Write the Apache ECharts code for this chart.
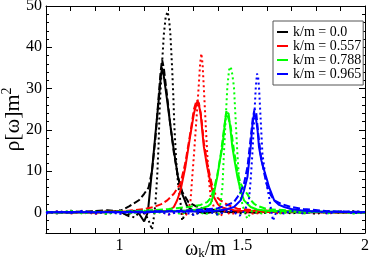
<!DOCTYPE html>
<html><head><meta charset="utf-8">
<script src="https://cdn.jsdelivr.net/npm/echarts@6/dist/echarts.min.js"></script>
<style>html,body{margin:0;padding:0;background:#fff}#c{width:374px;height:264px}</style>
</head><body><div id="c"></div>
<script>
const xTickLabels = [1, 1.5, 2];
const yTickLabels = [0, 10, 20, 30, 40, 50];
const legendNames = ['k/m = 0.0', 'k/m = 0.557', 'k/m = 0.788', 'k/m = 0.965'];
const colors = ['#000000', '#ff0000', '#00ff00', '#0000ff'];

const k0Solid = [[0.70,0],[0.75,0.1],[0.80,-0.1],[0.85,0.1],[0.90,0],[0.95,0.2],[1.00,0.3],[1.03,-0.7],[1.06,0.4],[1.08,-0.4],[1.10,-2.2],[1.115,0],[1.125,6],[1.135,12],[1.146,19],[1.159,27],[1.168,33],[1.173,35],[1.18,33],[1.194,27],[1.207,21],[1.221,15],[1.238,8.5],[1.255,4.5],[1.275,1.5],[1.30,0.4],[1.35,-0.2],[1.40,0.3],[1.45,0],[1.50,0.2],[1.55,-0.1],[1.60,0.2],[1.65,0],[1.70,0.1],[1.75,-0.1],[1.80,0.1],[1.85,0],[1.90,0.1],[1.95,0],[2.0,0]];
const k0Dashed = [[0.70,0],[0.80,0.1],[0.90,0.3],[0.95,0.5],[1.00,0.3],[1.04,1.5],[1.08,3],[1.10,4.5],[1.118,6],[1.132,10],[1.146,18],[1.159,28],[1.167,34],[1.173,37],[1.18,35],[1.194,28],[1.207,21],[1.221,14.5],[1.238,8.5],[1.255,5],[1.28,2.5],[1.31,1.5],[1.35,0.8],[1.40,0.5],[1.50,0.3],[1.60,0.2],[1.80,0.1],[2.0,0]];
const k0Dotted = [[0.70,0.2],[0.75,-0.3],[0.80,0.4],[0.85,-0.2],[0.90,0.3],[0.95,-0.4],[1.00,0.5],[1.03,-0.8],[1.06,-1.2],[1.09,0.5],[1.11,-1],[1.122,-2.5],[1.132,-4.2],[1.14,-1],[1.146,2.2],[1.153,8.6],[1.159,16.7],[1.163,24.8],[1.168,31],[1.174,37],[1.18,43],[1.188,47.5],[1.196,48.6],[1.202,46.5],[1.207,43],[1.214,35],[1.219,28],[1.223,21],[1.23,13],[1.238,7],[1.248,2.5],[1.255,-2],[1.265,-0.5],[1.28,0.5],[1.30,-0.6],[1.35,0.4],[1.40,-0.3],[1.45,0.5],[1.50,-0.4],[1.55,0.3],[1.60,-0.2],[1.65,0.4],[1.70,-0.3],[1.75,0.3],[1.80,-0.4],[1.85,0.3],[1.90,-0.2],[1.95,0.3],[2.0,0]];

const k1Solid = [[0.70,0],[0.80,0.1],[0.90,-0.1],[1.00,0.2],[1.10,0.1],[1.15,0.3],[1.20,0.4],[1.221,1.3],[1.235,3],[1.248,5.3],[1.268,11],[1.289,19],[1.303,24],[1.316,26.8],[1.323,26],[1.33,24],[1.343,16],[1.357,11],[1.371,7],[1.384,3.7],[1.40,2],[1.412,1.3],[1.44,0.8],[1.466,0.5],[1.50,0.3],[1.55,0.4],[1.60,0.1],[1.70,0.2],[1.80,0],[1.90,0.1],[2.0,0]];
const k1Dashed = [[0.70,0],[0.90,0.1],[1.00,0.2],[1.10,0.8],[1.139,1.3],[1.17,2],[1.194,2.9],[1.221,4.5],[1.248,7],[1.268,12],[1.289,19.5],[1.303,25],[1.314,27.2],[1.323,26.5],[1.333,23],[1.343,17],[1.357,12],[1.371,8],[1.384,5],[1.40,3.5],[1.412,2.9],[1.44,1.8],[1.48,0.9],[1.55,0.5],[1.65,0.3],[1.80,0.1],[2.0,0]];
const k1Dotted = [[0.70,-0.2],[0.75,0.3],[0.80,-0.3],[0.85,0.2],[0.90,-0.4],[0.95,0.3],[1.00,-0.2],[1.05,0.4],[1.10,-0.3],[1.15,0.5],[1.20,-0.5],[1.24,0.3],[1.27,-0.8],[1.28,0.5],[1.289,2.9],[1.296,8.6],[1.303,14],[1.309,19.1],[1.316,25],[1.323,31.2],[1.328,36],[1.333,38.5],[1.338,36],[1.343,30.4],[1.35,22.3],[1.357,14.2],[1.364,7.8],[1.371,3.7],[1.384,1.3],[1.398,0.1],[1.41,-1],[1.43,0.4],[1.45,-0.5],[1.50,0.3],[1.55,-0.4],[1.60,0.3],[1.65,-0.3],[1.70,0.4],[1.75,-0.2],[1.80,0.3],[1.85,-0.3],[1.90,0.2],[1.95,-0.2],[2.0,0]];

const k2Solid = [[0.70,0],[0.80,0.1],[0.90,0],[1.00,0.1],[1.10,0.2],[1.20,0.3],[1.30,0.5],[1.33,0.9],[1.36,1.5],[1.371,2.1],[1.384,4.5],[1.398,8.6],[1.41,13],[1.419,16],[1.428,21],[1.434,24],[1.444,24],[1.452,20],[1.459,16],[1.47,12],[1.48,8.6],[1.493,5.3],[1.507,2.9],[1.534,1.3],[1.56,0.7],[1.60,0.4],[1.70,0.2],[1.80,0.1],[1.90,0],[2.0,0]];
const k2Dashed = [[0.70,0],[0.90,0.1],[1.00,0.2],[1.10,0.4],[1.20,0.8],[1.28,1.3],[1.33,1.8],[1.357,2.5],[1.371,3.5],[1.384,5.5],[1.398,9],[1.412,14],[1.425,20],[1.435,24.5],[1.442,24.5],[1.452,21],[1.466,15],[1.48,10],[1.493,7],[1.507,5.5],[1.52,4.5],[1.534,3],[1.548,2.1],[1.56,1.6],[1.60,0.8],[1.70,0.4],[1.80,0.2],[2.0,0]];
const k2Dotted = [[0.70,0.3],[0.75,-0.2],[0.80,0.4],[0.85,-0.3],[0.90,0.2],[0.95,-0.4],[1.00,0.3],[1.05,-0.3],[1.10,0.4],[1.15,-0.2],[1.20,0.5],[1.25,-0.4],[1.30,0.6],[1.35,-0.5],[1.39,0.8],[1.40,-1],[1.412,2.5],[1.419,6.1],[1.425,14.2],[1.432,22.3],[1.439,30.4],[1.446,34.5],[1.453,35.3],[1.459,33.5],[1.466,30.4],[1.473,22.3],[1.48,14.2],[1.487,7.8],[1.493,3.7],[1.507,0.5],[1.52,-1.5],[1.54,0.4],[1.58,-0.3],[1.62,0.4],[1.66,-0.3],[1.70,0.3],[1.75,-0.3],[1.80,0.4],[1.85,-0.2],[1.90,0.3],[1.95,-0.3],[2.0,0]];

const k3Solid = [[0.70,0],[0.80,0.1],[0.90,0],[1.00,0.1],[1.10,0],[1.20,0.2],[1.30,0.2],[1.40,0.4],[1.44,0.8],[1.466,1.3],[1.493,2.9],[1.507,5.3],[1.521,8.6],[1.534,15.8],[1.541,21],[1.548,24],[1.555,23],[1.562,20],[1.568,15.8],[1.578,12.5],[1.589,10.2],[1.60,8],[1.609,6.1],[1.63,2.9],[1.65,1.8],[1.671,1.3],[1.70,0.8],[1.75,0.4],[1.80,0.2],[1.90,0.1],[2.0,0]];
const k3Dashed = [[0.70,0],[0.90,0.1],[1.00,0.1],[1.10,0.2],[1.20,0.3],[1.30,0.5],[1.40,1],[1.44,1.8],[1.466,2.5],[1.48,3.7],[1.493,4.9],[1.507,7],[1.521,11],[1.534,18],[1.543,23],[1.55,25],[1.557,24],[1.565,19],[1.575,14],[1.589,9.5],[1.603,6],[1.615,4.3],[1.63,2.9],[1.657,2.1],[1.698,1.3],[1.75,0.8],[1.85,0.3],[2.0,0.1]];
const k3Dotted = [[0.70,-0.3],[0.75,0.3],[0.80,-0.2],[0.85,0.4],[0.90,-0.3],[0.95,0.2],[1.00,-0.4],[1.05,0.3],[1.10,-0.2],[1.15,0.4],[1.20,-0.5],[1.25,0.3],[1.30,-0.6],[1.35,0.4],[1.40,-0.5],[1.45,0.5],[1.49,-0.8],[1.51,0.5],[1.527,2.9],[1.534,7.8],[1.541,14.2],[1.548,22.3],[1.555,30.4],[1.56,33.6],[1.564,33],[1.568,30.4],[1.575,22.3],[1.582,14.2],[1.596,7.8],[1.609,3.7],[1.615,1.5],[1.625,-2],[1.64,0.3],[1.67,-0.3],[1.70,0.4],[1.75,-0.3],[1.80,0.4],[1.85,-0.3],[1.90,0.3],[1.95,-0.2],[2.0,0]];

const groups = [[k0Solid,k0Dashed,k0Dotted],[k1Solid,k1Dashed,k1Dotted],[k2Solid,k2Dashed,k2Dotted],[k3Solid,k3Dashed,k3Dotted]];

const FONT = "'Liberation Serif','DejaVu Serif',serif";
const xMin = 0.7, xMax = 2, yMin = -5, yMax = 50;
const xTicks = []; for (let i = 8; i <= 20; i++) xTicks.push(i / 10);
const yMinor = []; for (let v = -4; v <= 50; v += 2) if (v % 10 !== 0) yMinor.push(v);

const series = [];
groups.forEach((g, i) => {
  const base = { type: 'line', showSymbol: false, symbol: 'none', animation: false, xAxisIndex: 0, yAxisIndex: 0, color: colors[i] };
  series.push(Object.assign({}, base, { name: legendNames[i] + ' dotted', data: g[2], lineStyle: { width: 2, type: [2, 3], color: colors[i] } }));
  series.push(Object.assign({}, base, { name: legendNames[i] + ' dashed', data: g[1], lineStyle: { width: 2, type: [7, 3], color: colors[i] } }));
  series.push(Object.assign({}, base, { name: legendNames[i], data: g[0], lineStyle: { width: 2, type: 'solid', color: colors[i] } }));
});

function xAx(pos, labels) {
  return { type: 'value', position: pos, min: xMin, max: xMax,
    axisLine: { show: true, onZero: false, lineStyle: { color: '#000', width: 1 } },
    axisTick: { show: true, inside: true, length: 5, customValues: xTicks, lineStyle: { color: '#000' } },
    axisLabel: { show: labels, customValues: xTickLabels, margin: 5, color: '#000', fontFamily: FONT, fontSize: 16 },
    splitLine: { show: false } };
}
function yAx(pos, ticks, len, labels, line) {
  return { type: 'value', position: pos, min: yMin, max: yMax,
    axisLine: { show: line, onZero: false, lineStyle: { color: '#000', width: 1 } },
    axisTick: { show: true, inside: true, length: len, customValues: ticks, lineStyle: { color: '#000' } },
    axisLabel: { show: labels, customValues: yTickLabels, margin: 4, color: '#000', fontFamily: FONT, fontSize: 16 },
    splitLine: { show: false } };
}
const xa0 = xAx('bottom', true);
xa0.name = '{a|ω}{s|k}{a|/m}';
xa0.nameLocation = 'middle';
xa0.nameGap = 6;
xa0.nameMoveOverlap = false;
xa0.nameTextStyle = { fontFamily: FONT, color: '#000', verticalAlign: 'top', rich: { a: { fontFamily: FONT, fontSize: 20, color: '#000' }, s: { fontFamily: FONT, fontSize: 13, color: '#000', verticalAlign: 'bottom', padding: [8, 0, 0, 0] } } };
const ya0 = yAx('left', yTickLabels, 6, true, true);
ya0.name = '{a|ρ[ω]m}{s|2}';
ya0.nameLocation = 'middle';
ya0.nameGap = 20;
ya0.nameRotate = 90;
ya0.nameMoveOverlap = false;
ya0.nameTextStyle = { fontFamily: FONT, color: '#000', rich: { a: { fontFamily: FONT, fontSize: 22, color: '#000' }, s: { fontFamily: FONT, fontSize: 14, color: '#000', verticalAlign: 'top', padding: [0, 0, 12, 0] } } };

const option = {
  backgroundColor: '#fff',
  animation: false,
  grid: { left: 46, right: 9, top: 6, bottom: 31, containLabel: false, outerBoundsMode: 'none' },
  xAxis: [xa0, xAx('top', false)],
  yAxis: [ya0, yAx('left', yMinor, 3, false, false), yAx('right', yTickLabels, 6, false, true), yAx('right', yMinor, 3, false, false)],
  legend: {
    data: legendNames, orient: 'vertical', left: 273, top: 21,
    icon: 'rect', itemWidth: 11, itemHeight: 2, itemGap: 0, itemTextGap: 9,
    padding: [4, 2, 4, 4], borderColor: '#555', borderWidth: 1, backgroundColor: '#fff',
    selectedMode: false,
    textStyle: { fontFamily: FONT, fontSize: 14, color: '#000', lineHeight: 12 }
  },
  series: series
};
const chart = echarts.init(document.getElementById('c'), null, { renderer: 'canvas' });
chart.setOption(option);
</script></body></html>
